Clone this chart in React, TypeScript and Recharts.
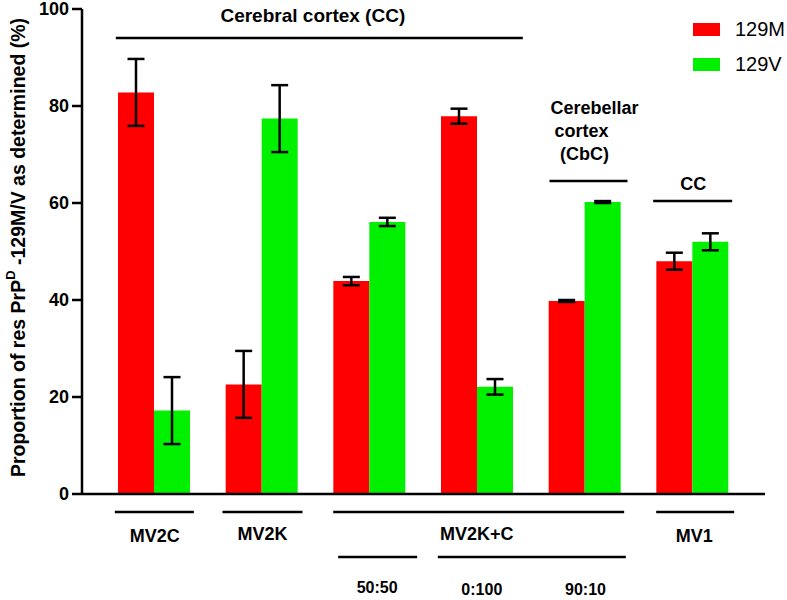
import React from 'react';
import {
  BarChart,
  Bar,
  XAxis,
  YAxis,
  ErrorBar,
  Legend,
  Label,
} from 'recharts';

const categories = ['MV2C', 'MV2K', '50:50', '0:100', '90:10', 'MV1'];
const m129 = [82.8, 22.6, 43.9, 77.9, 39.8, 48.0];
const m129Err = [6.9, 6.9, 0.85, 1.55, 0.2, 1.75];
const v129 = [17.2, 77.4, 56.1, 22.1, 60.2, 52.0];
const v129Err = [6.9, 6.9, 0.85, 1.6, 0.2, 1.75];
const yTicks = [0, 20, 40, 60, 80, 100];

const data = categories.map((name, i) => ({
  name,
  m: m129[i],
  mErr: m129Err[i],
  v: v129[i],
  vErr: v129Err[i],
}));

const RED = '#ff0000';
const GREEN = '#00f000';
const FONT = '"Liberation Sans", Arial, sans-serif';
const PLOT_H = 485;

const Line = ({ x1, x2, y }: { x1: number; x2: number; y: number }) => (
  <line x1={x1} x2={x2} y1={y} y2={y} stroke="#000" strokeWidth={2.5} />
);

const T = ({ x, y, size = 18, children }: any) => (
  <text x={x} y={y} textAnchor="middle" fontFamily={FONT} fontWeight="bold" fontSize={size} fill="#000">
    {children}
  </text>
);

// group labels and brackets hang off each category tick
const GroupTick = (props: any) => {
  const { x, y, payload } = props;
  const i = categories.indexOf(payload.value);
  const top = y - PLOT_H;
  if (i === 0)
    return (
      <g>
        <Line x1={x - 39} x2={x + 40} y={y + 18} />
        <T x={x + 1} y={y + 48}>MV2C</T>
        <T x={x + 159} y={top + 13} size={19}>Cerebral cortex (CC)</T>
        <Line x1={x - 38} x2={x + 369} y={top + 29} />
      </g>
    );
  if (i === 1)
    return (
      <g>
        <Line x1={x - 39} x2={x + 41} y={y + 18} />
        <T x={x + 1} y={y + 46}>MV2K</T>
      </g>
    );
  if (i === 2)
    return (
      <g>
        <Line x1={x - 36} x2={x + 255} y={y + 18} />
        <Line x1={x - 31} x2={x + 48} y={y + 63} />
        <T x={x + 8} y={y + 99} size={16}>50:50</T>
      </g>
    );
  if (i === 3)
    return (
      <g>
        <T x={x} y={y + 46}>MV2K+C</T>
        <Line x1={x - 39} x2={x + 149} y={y + 63} />
        <T x={x + 5} y={y + 101} size={16}>0:100</T>
      </g>
    );
  if (i === 4)
    return (
      <g>
        <T x={x + 1} y={y + 101} size={16}>90:10</T>
        <T x={x + 10} y={top + 105}>Cerebellar</T>
        <T x={x - 3} y={top + 128}>cortex</T>
        <T x={x} y={top + 151}>(CbC)</T>
        <Line x1={x - 35} x2={x + 43} y={top + 172} />
      </g>
    );
  return (
    <g>
      <Line x1={x - 36} x2={x + 42} y={y + 18} />
      <T x={x + 2} y={y + 48}>MV1</T>
      <T x={x + 1} y={top + 181}>CC</T>
      <Line x1={x - 39} x2={x + 40} y={top + 192} />
    </g>
  );
};

const YLabel = (props: any) => {
  const vb = props.viewBox || { y: 9, height: PLOT_H };
  const cx = 18;
  const cy = vb.y + vb.height / 2 - 4;
  return (
    <text
      x={cx}
      y={cy}
      transform={`rotate(-90, ${cx}, ${cy})`}
      textAnchor="middle"
      dominantBaseline="central"
      fontFamily={FONT}
      fontWeight="bold"
      fontSize={19.5}
      fill="#000"
    >
      Proportion of res PrP
      <tspan dy={-8} fontSize={13}>D</tspan>
      <tspan dy={8}> -129M/V as determined (%)</tspan>
    </text>
  );
};

const LegendBox = () => (
  <div style={{ position: 'relative', fontFamily: FONT, fontSize: 20, color: '#000' }}>
    {[
      { c: RED, t: '129M' },
      { c: GREEN, t: '129V' },
    ].map((it, k) => (
      <div
        key={it.t}
        style={{ position: 'absolute', left: 0, top: k * 35, height: 26, display: 'flex', alignItems: 'center', whiteSpace: 'nowrap' }}
      >
        <span style={{ display: 'inline-block', width: 27, height: 13, background: it.c, marginRight: 15 }} />
        <span>{it.t}</span>
      </div>
    ))}
  </div>
);

export default function App() {
  return (
    <div style={{ position: 'absolute', left: 0, top: 0, width: 787, height: 600, background: '#fff' }}>
      <BarChart
        width={787}
        height={600}
        data={data}
        margin={{ top: 9, right: 22, left: 0, bottom: 0 }}
        barSize={36}
        barGap={0}
      >
        <XAxis
          dataKey="name"
          height={106}
          padding={{ left: 18, right: 19 }}
          tickLine={false}
          tickSize={0}
          tickMargin={0}
          interval={0}
          stroke="#000"
          strokeWidth={2.5}
          tick={<GroupTick />}
        />
        <YAxis
          width={82}
          domain={[0, 100]}
          ticks={yTicks}
          interval={0}
          tickSize={10}
          tickMargin={3}
          stroke="#000"
          strokeWidth={2.5}
          tick={{ fill: '#000', fontFamily: FONT, fontWeight: 'bold', fontSize: 18 }}
        >
          <Label content={<YLabel />} />
        </YAxis>
        <Legend
          content={<LegendBox />}
          wrapperStyle={{ position: 'absolute', left: 693, top: 16.5, width: 0, height: 0, overflow: 'visible' }}
        />
        <Bar dataKey="m" name="129M" fill={RED} isAnimationActive={false}>
          <ErrorBar dataKey="mErr" width={8.5} stroke="#000" strokeWidth={2.5} />
        </Bar>
        <Bar dataKey="v" name="129V" fill={GREEN} isAnimationActive={false}>
          <ErrorBar dataKey="vErr" width={8.5} stroke="#000" strokeWidth={2.5} />
        </Bar>
      </BarChart>
    </div>
  );
}
